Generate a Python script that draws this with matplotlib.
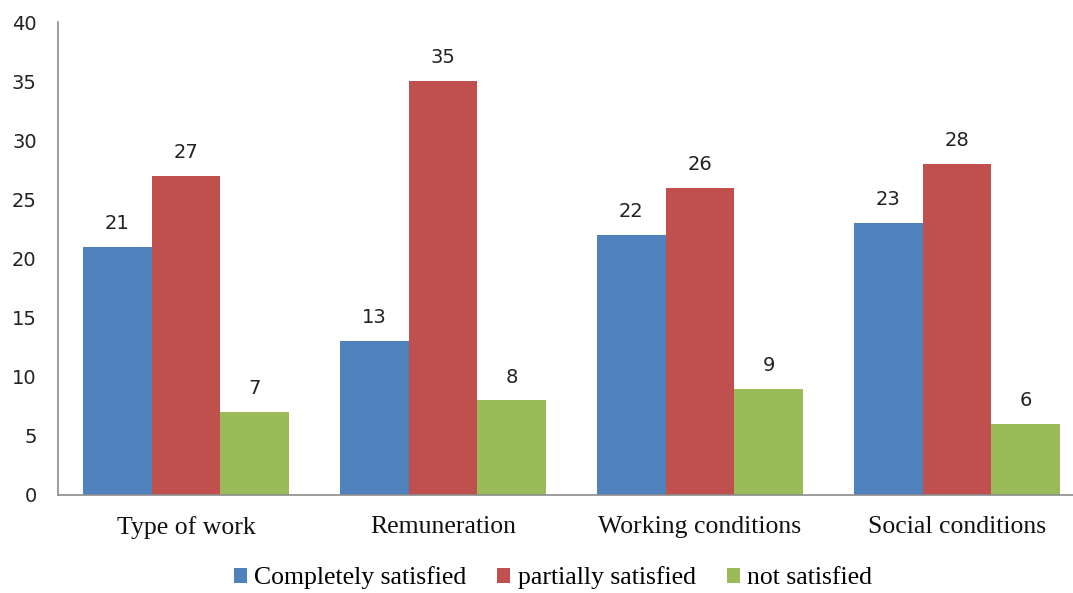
import matplotlib
matplotlib.use("Agg")
import matplotlib.pyplot as plt
import numpy as np

categories = ["Type of work", "Remuneration", "Working conditions", "Social conditions"]
series_names = ["Completely satisfied", "partially satisfied", "not satisfied"]
completely = [21, 13, 22, 23]
partially = [27, 35, 26, 28]
not_satisfied = [7, 8, 9, 6]
colors = ["#4F81BD", "#C0504D", "#9BBB59"]
yticks = [0, 5, 10, 15, 20, 25, 30, 35, 40]

W, H = 1073, 593
fig = plt.figure(figsize=(W / 100, H / 100), dpi=100)
left, right, bottom, top = 57.5, 1085.5, 495, 22
ax = fig.add_axes([left / W, 1 - bottom / H, (right - left) / W, (bottom - top) / H])

x = np.arange(len(categories))
bw = 1 / 3.75
data = [completely, partially, not_satisfied]
for i, (vals, name, c) in enumerate(zip(data, series_names, colors)):
    pos = x + (i - 1) * bw
    bars = ax.bar(pos, vals, width=bw, color=c, label=name, linewidth=0)
    for b, v in zip(bars, vals):
        ax.annotate(str(v), (b.get_x() + b.get_width() / 2, v), xytext=(0, 10),
                    textcoords="offset points", ha="center", va="bottom",
                    fontsize=14, family="DejaVu Sans", color="#222222")

ax.set_xlim(-0.5, len(categories) - 0.5)
ax.set_ylim(0, 40)
ax.set_yticks(yticks)
ax.set_yticklabels([str(t) for t in yticks], fontsize=14, family="DejaVu Sans", color="#222222")
ax.set_xticks(x)
ax.set_xticklabels(categories, fontsize=18.5, family="Liberation Serif", color="#111111")
ax.tick_params(axis="both", length=0)
ax.tick_params(axis="y", pad=15)
ax.tick_params(axis="x", pad=15)
for s in ["top", "right"]:
    ax.spines[s].set_visible(False)
for s in ["left", "bottom"]:
    ax.spines[s].set_color("#8C8C8C")
    ax.spines[s].set_linewidth(1.2)

leg = fig.legend(loc="center", bbox_to_anchor=(553 / W, 1 - 578 / H), ncol=3, frameon=False,
                 prop={"family": "Liberation Serif", "size": 18.5}, handlelength=0.5, handleheight=0.5,
                 handletextpad=0.3, columnspacing=1.2)
fig.savefig("out.png", dpi=100)
